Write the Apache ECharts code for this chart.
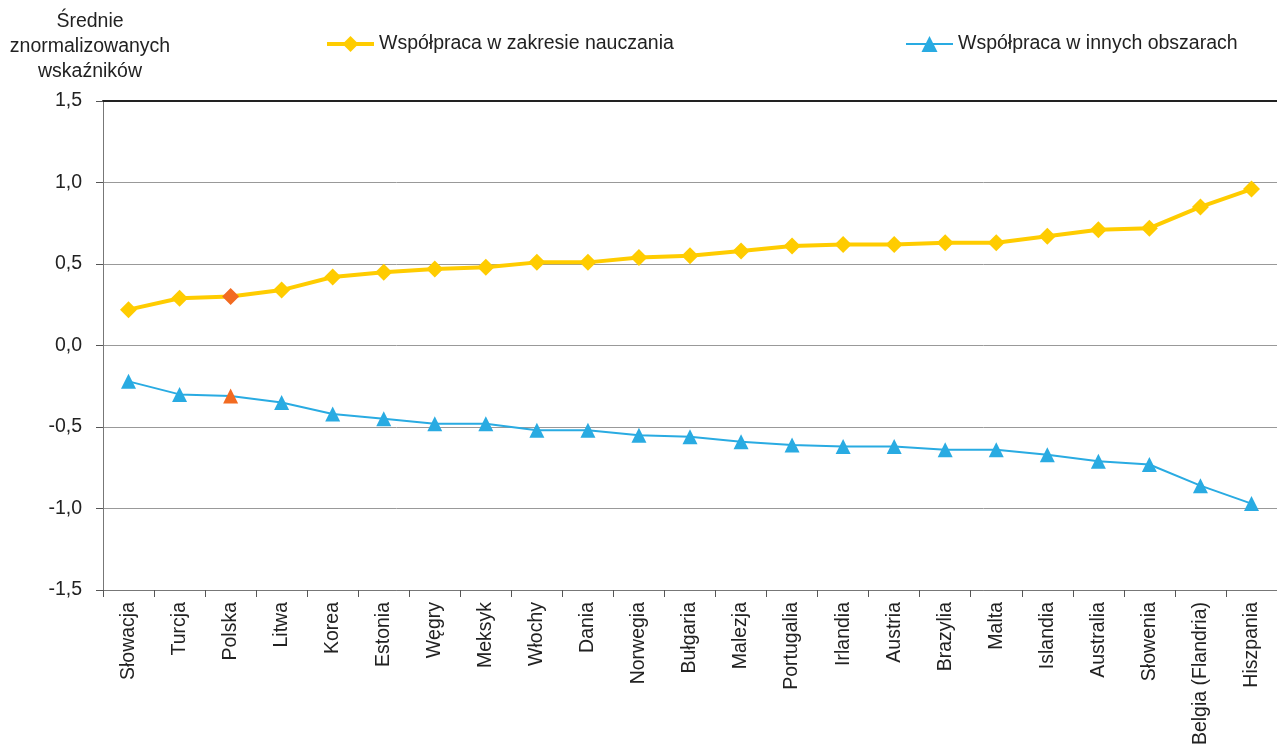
<!DOCTYPE html>
<html><head><meta charset="utf-8">
<script src="https://cdn.jsdelivr.net/npm/echarts@6/dist/echarts.min.js"></script>
<style>html,body{margin:0;padding:0;background:#fff}#c{width:1277px;height:744px}</style>
</head><body><div id="c"></div>
<script>
const categories = ['Słowacja','Turcja','Polska','Litwa','Korea','Estonia','Węgry','Meksyk','Włochy','Dania','Norwegia','Bułgaria','Malezja','Portugalia','Irlandia','Austria','Brazylia','Malta','Islandia','Australia','Słowenia','Belgia (Flandria)','Hiszpania'];
const teaching = [0.22,0.29,0.30,0.34,0.42,0.45,0.47,0.48,0.51,0.51,0.54,0.55,0.58,0.61,0.62,0.62,0.63,0.63,0.67,0.71,0.72,0.85,0.96];
const other = [-0.22,-0.30,-0.31,-0.35,-0.42,-0.45,-0.48,-0.48,-0.52,-0.52,-0.55,-0.56,-0.59,-0.61,-0.62,-0.62,-0.64,-0.64,-0.67,-0.71,-0.73,-0.86,-0.97];
const highlight = 'Polska';
const seriesNames = ['Współpraca w zakresie nauczania','Współpraca w innych obszarach'];
const yTitle = 'Średnie\nznormalizowanych\nwskaźników';

const FONT = 'Liberation Sans';
const FS = 19.5;
const YEL = '#FFCC00', BLU = '#29ABE2', ORG = '#F26B21';
function mark(arr){return arr.map((v,i)=>categories[i]===highlight?{value:v,itemStyle:{color:ORG}}:v);}

const chart = echarts.init(document.getElementById('c'));
chart.setOption({
  animation:false,
  textStyle:{fontFamily:FONT},
  grid:{left:103,right:0,top:101,bottom:154,outerBoundsMode:'none',containLabel:false},
  graphic:[{type:'text',x:90,y:9,style:{text:yTitle,textAlign:'center',fontSize:FS,fontFamily:FONT,fill:'#222',lineHeight:25}}],
  legend:[
    {data:[seriesNames[0]],left:320,top:29,itemWidth:47,itemHeight:20,itemGap:5,lineStyle:{width:4},textStyle:{fontSize:FS,color:'#222',fontFamily:FONT}},
    {data:[seriesNames[1]],left:900,top:29,itemWidth:47,itemHeight:20,itemGap:5,lineStyle:{width:2},textStyle:{fontSize:FS,color:'#222',fontFamily:FONT}}
  ],
  xAxis:[{
    type:'category',data:categories,boundaryGap:true,
    axisLine:{onZero:false,lineStyle:{color:'#777',width:1}},
    axisTick:{show:true,length:7,lineStyle:{color:'#555'}},
    axisLabel:{rotate:90,fontSize:FS,color:'#222',margin:12,interval:0,fontFamily:FONT}
  },{
    type:'category',data:categories,position:'top',
    axisLine:{onZero:false,lineStyle:{color:'#222',width:2}},axisTick:{show:false},axisLabel:{show:false}
  }],
  yAxis:{
    type:'value',min:-1.5,max:1.5,interval:0.5,
    axisLine:{show:true,lineStyle:{color:'#777'}},
    axisTick:{show:true,length:7,lineStyle:{color:'#555'}},
    axisLabel:{fontSize:FS,color:'#222',margin:21,fontFamily:FONT,formatter:v=>v.toFixed(1).replace('.',',')},
    splitLine:{lineStyle:{color:'#999',width:1}}
  },
  series:[
    {name:seriesNames[0],type:'line',data:mark(teaching),symbol:'diamond',symbolSize:17,
     lineStyle:{color:YEL,width:4},itemStyle:{color:YEL},z:3},
    {name:seriesNames[1],type:'line',data:mark(other),symbol:'triangle',symbolSize:15,
     lineStyle:{color:BLU,width:2},itemStyle:{color:BLU},z:3}
  ]
});
</script></body></html>
